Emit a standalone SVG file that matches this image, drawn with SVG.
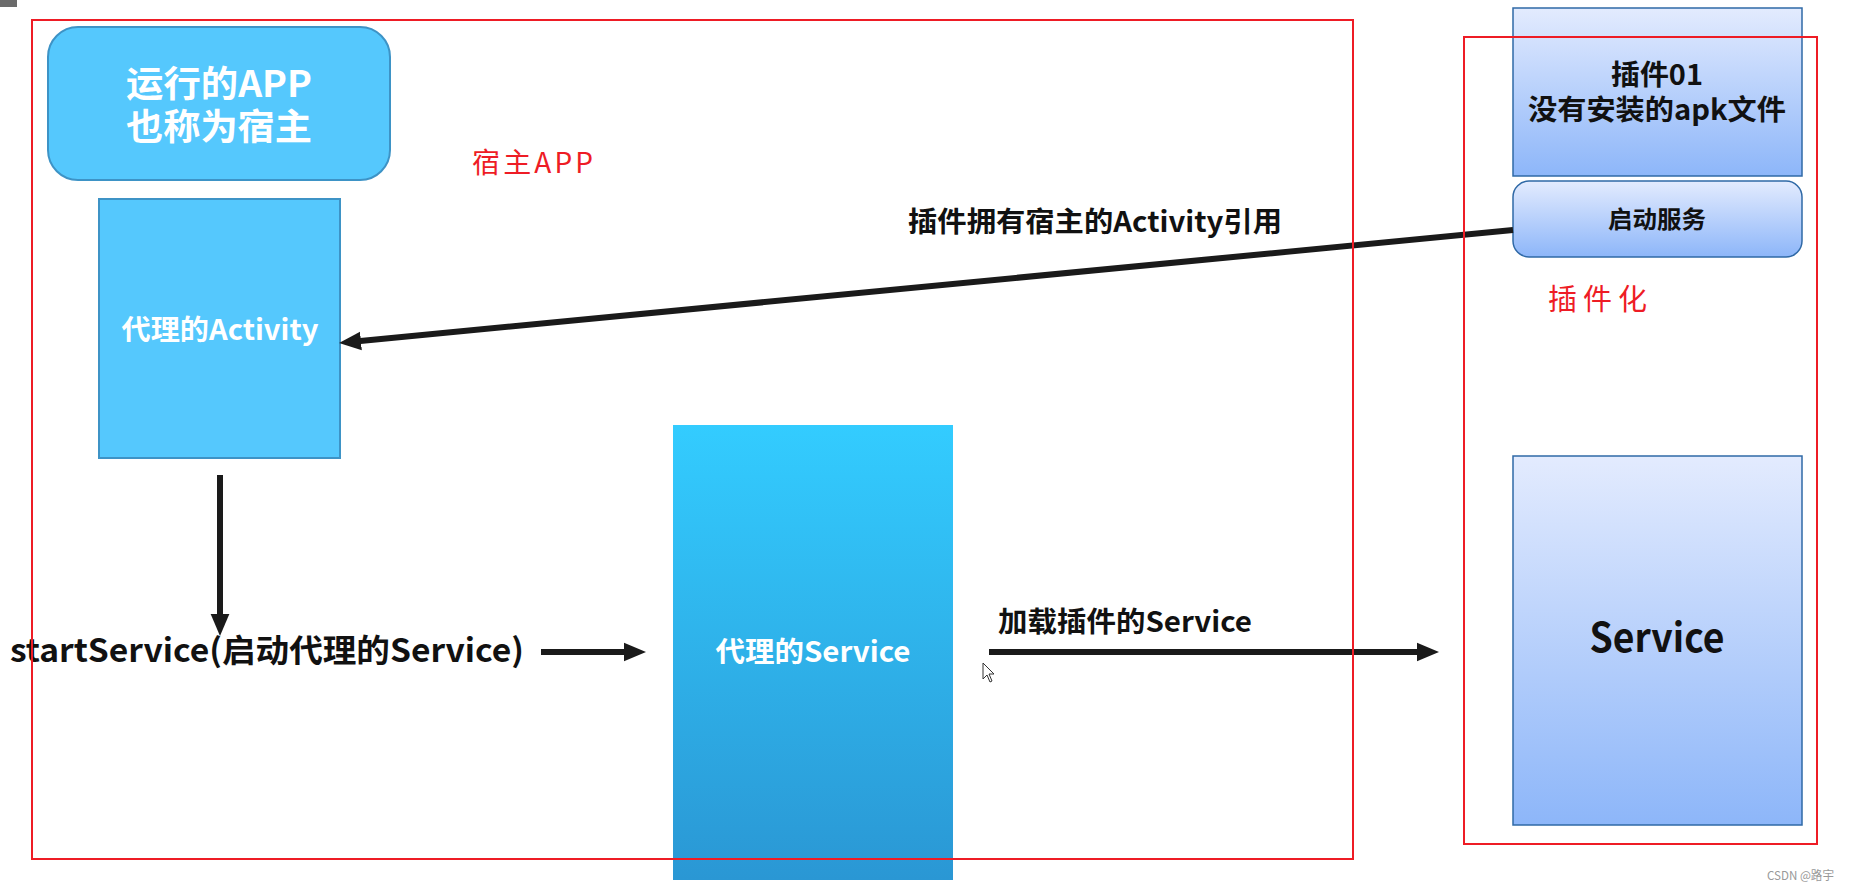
<svg xmlns="http://www.w3.org/2000/svg" width="1850" height="891" viewBox="0 0 1850 891">
  <defs>
    <linearGradient id="gSvc" x1="0" y1="0" x2="0" y2="1">
      <stop offset="0" stop-color="#33ccff"/>
      <stop offset="1" stop-color="#2a97d4"/>
    </linearGradient>
    <linearGradient id="gPlug" x1="0" y1="0" x2="0" y2="1">
      <stop offset="0" stop-color="#e3ebfe"/>
      <stop offset="1" stop-color="#8db6f9"/>
    </linearGradient>
    <marker id="ah" markerUnits="userSpaceOnUse" markerWidth="22" markerHeight="22" viewBox="0 0 20 20" refX="10" refY="10" orient="auto">
      <path d="M0,1.5 L20,10 L0,18.5 z" fill="#1a1a1a"/>
    </marker>
    <style>
      .cn { font-family: "Noto Sans CJK SC", "Noto Sans", sans-serif; }
      .b { font-weight: bold; }
      .w { fill: #ffffff; }
      .k { fill: #111111; }
      .red { fill: #ee1c25; font-weight: normal; }
      .frame { fill: none; stroke: #ee1c25; stroke-width: 2; }
      .host { fill: #55c8fd; stroke: #3d93c6; stroke-width: 2; }
      .plug { fill: url(#gPlug); stroke: #2f69a6; stroke-width: 1.5; }
      .conn { stroke: #1a1a1a; stroke-width: 6; fill: none; marker-end: url(#ah); }
    </style>
  </defs>

  <rect width="1850" height="891" fill="#ffffff"/>
  <rect x="0" y="0" width="17" height="7" fill="#6b6b6b"/>

  <g id="host-app">
    <rect x="48" y="27" width="342" height="153" rx="30" ry="30" class="host"/>
    <text class="cn b w" font-size="36" text-anchor="middle"><tspan x="219" y="97" textLength="186" lengthAdjust="spacingAndGlyphs">运行的APP</tspan><tspan x="219" y="140" textLength="186" lengthAdjust="spacingAndGlyphs">也称为宿主</tspan></text>
  </g>

  <g id="proxy-activity">
    <rect x="99" y="199" width="241" height="259" class="host"/>
    <text class="cn b w" x="220" y="340" font-size="28" text-anchor="middle" textLength="197" lengthAdjust="spacingAndGlyphs">代理的Activity</text>
  </g>

  <g id="proxy-service">
    <rect x="673" y="425" width="280" height="455" fill="url(#gSvc)"/>
    <text class="cn b w" x="813" y="662" font-size="28" text-anchor="middle" textLength="195" lengthAdjust="spacingAndGlyphs">代理的Service</text>
  </g>

  <g id="plugin01">
    <rect x="1513" y="8" width="289" height="168" class="plug"/>
    <text class="cn b k" font-size="28" text-anchor="middle"><tspan x="1657" y="85" textLength="92" lengthAdjust="spacingAndGlyphs">插件01</tspan><tspan x="1657" y="120" textLength="258" lengthAdjust="spacingAndGlyphs">没有安装的apk文件</tspan></text>
  </g>

  <g id="start-service">
    <rect x="1513" y="181" width="289" height="76" rx="16" ry="16" class="plug"/>
    <text class="cn b k" x="1657" y="228" font-size="24" text-anchor="middle" textLength="98" lengthAdjust="spacingAndGlyphs">启动服务</text>
  </g>

  <g id="plugin-service">
    <rect x="1513" y="456" width="289" height="369" class="plug"/>
    <text class="cn b k" x="1657" y="652" font-size="40" text-anchor="middle" textLength="135" lengthAdjust="spacingAndGlyphs">Service</text>
  </g>

  <g id="start-service-call">
    <text class="cn b k" x="10" y="662" font-size="32" textLength="514" lengthAdjust="spacingAndGlyphs">startService(启动代理的Service)</text>
  </g>

  <g id="connectors">
    <path class="conn" d="M1513,230 L350,342"/>
    <path class="conn" d="M220,475 L220,625"/>
    <path class="conn" d="M541,652 L635,652"/>
    <path class="conn" d="M989,652 L1428,652"/>
    <text class="cn b k" x="908" y="232" font-size="28" textLength="374" lengthAdjust="spacingAndGlyphs">插件拥有宿主的Activity引用</text>
    <text class="cn b k" x="998" y="632" font-size="28" textLength="254" lengthAdjust="spacingAndGlyphs">加载插件的Service</text>
  </g>

  <g id="frames">
    <rect x="32" y="20" width="1321" height="839" class="frame"/>
    <rect x="1464" y="37" width="353" height="807" class="frame"/>
    <text class="cn red" x="472" y="173" font-size="28" textLength="121" lengthAdjust="spacing">宿主APP</text>
    <text class="cn red" x="1548" y="310" font-size="29" textLength="99" lengthAdjust="spacing">插件化</text>
  </g>

  <g id="cursor">
    <path d="M983,663 L983,679 L987,675 L990,682 L992,681 L989,674 L994,674 Z" fill="#ffffff" stroke="#333333" stroke-width="1"/>
  </g>

  <text class="cn" x="1767" y="880" font-size="12" fill="#999999" textLength="67" lengthAdjust="spacingAndGlyphs">CSDN @路宇</text>
</svg>
